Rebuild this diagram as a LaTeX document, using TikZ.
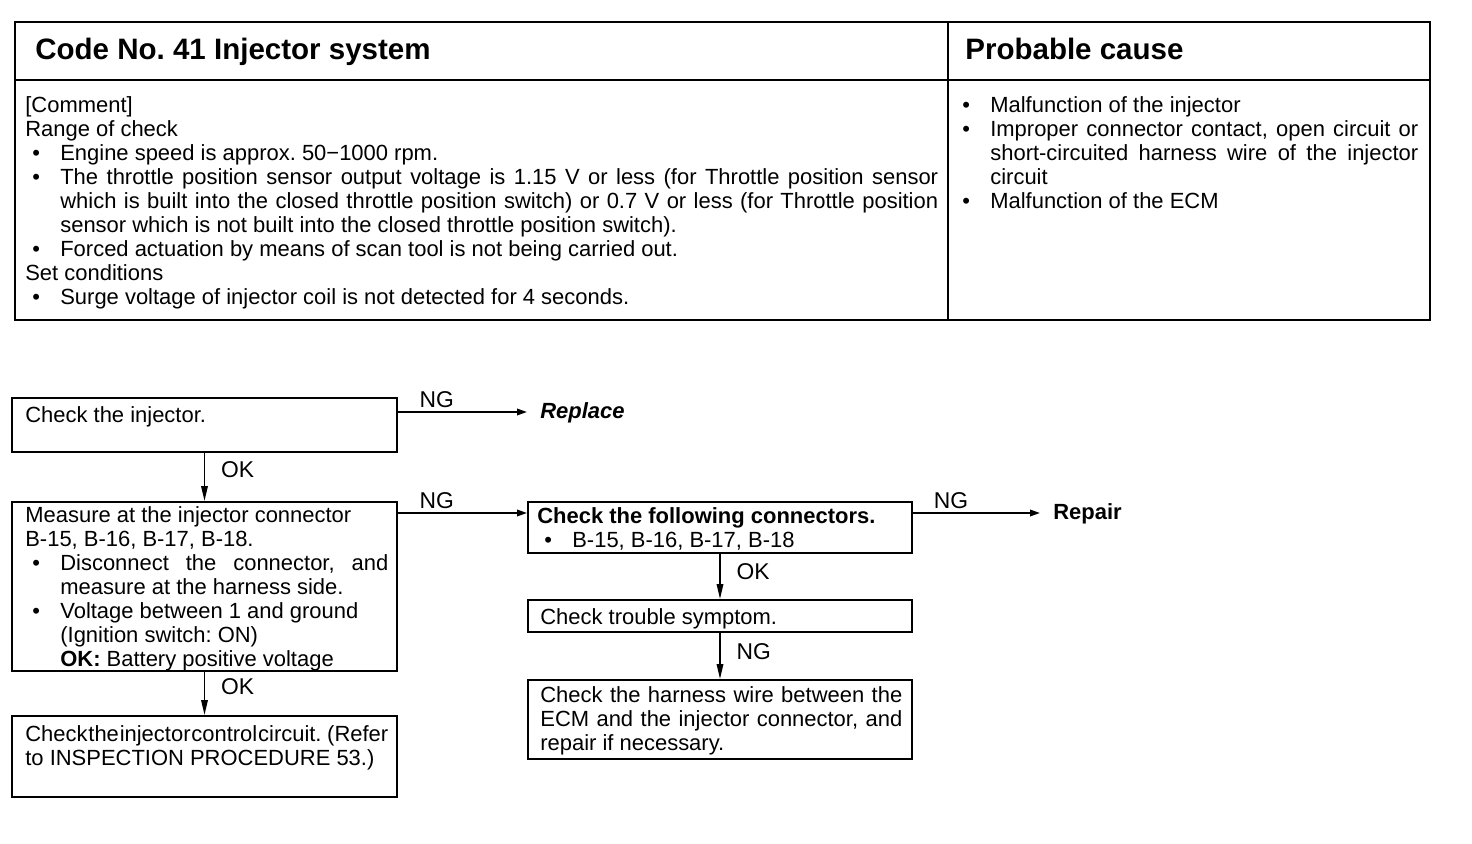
\documentclass[tikz,border=0pt]{standalone}
\usepackage{fontspec}
\setmainfont{Liberation Sans}
\usetikzlibrary{arrows.meta,fit}
\setlength{\parindent}{0pt}
\frenchspacing
\newlength{\bi}\setlength{\bi}{0.7cm}
\newcommand{\bul}{\par\hangindent=\bi\hangafter=1\makebox[\bi][l]{\hspace{0.14cm}\textbullet}}
\newcommand{\txt}{\fontsize{12.5}{13.66}\selectfont}

\begin{document}
\begin{tikzpicture}[x=0.02cm,y=-0.02cm,
    box/.style={draw,line width=1.1pt,inner sep=0pt},
    txt/.style={anchor=north west,inner sep=0pt,align=justify,font=\txt},
    head/.style={anchor=base west,inner sep=0pt,font=\fontsize{16.8}{20}\selectfont\bfseries},
    lbl/.style={font=\fontsize{13}{15}\selectfont,inner sep=2pt},
    harr/.style={line width=1pt,-{Triangle[length=0.2cm,width=0.13cm]}},
    varr/.style={line width=1pt,-{Triangle[length=0.3cm,width=0.13cm]}}]
  \useasboundingbox (0,0) rectangle (1472,844);
  % table
  \draw[line width=1.6pt] (15,22) rectangle (1430,320);
  \draw[line width=1.4pt] (15,80) -- (1430,80);
  \draw[line width=1.2pt] (948,22) -- (948,320);
  \node[head] (code) at (35,60) {Code No. 41 Injector system};
  \node[head] (cause) at (965,60) {Probable cause};
  \node[txt,text width=18.26cm] (comment) at (25,96) {[Comment]\par
    Range of check
    \bul Engine speed is approx. 50−1000 rpm.
    \bul The throttle position sensor output voltage is 1.15 V or less (for Throttle position sensor\linebreak
    which is built into the closed throttle position switch) or 0.7 V or less (for Throttle position\linebreak
    sensor which is not built into the closed throttle position switch).
    \bul Forced actuation by means of scan tool is not being carried out.\par
    Set conditions
    \bul Surge voltage of injector coil is not detected for 4 seconds.\par};
  \node[txt,text width=9.26cm] (causes) at (955,88) {%
    \bul Malfunction of the injector
    \bul Improper connector contact, open circuit or\linebreak
    short-circuited harness wire of the injector\linebreak circuit
    \bul Malfunction of the ECM\par};

  % flow chart boxes
  \node[box,fit={(12,398) (397,452)}] (inj) {};
  \node[box,fit={(12,502) (397,671)}] (meas) {};
  \node[box,fit={(12,716) (397,797)}] (circ) {};
  \node[box,fit={(528,502) (912,553)}] (conn) {};
  \node[box,fit={(528,600) (912,632)}] (symp) {};
  \node[box,fit={(528,680) (912,759)}] (harn) {};

  \node[txt] (inj-t) at (25,406) {Check the injector.};
  \node[txt,text width=7.26cm] (meas-t) at (25,506) {Measure at the injector connector\newline
    B-15, B-16, B-17, B-18.
    \bul Disconnect the connector, and\linebreak measure at the harness side.
    \bul Voltage between 1 and ground\newline (Ignition switch: ON)\newline
    \textbf{OK:} Battery positive voltage\par};
  \node[txt,text width=7.26cm] (circ-t) at (25,725) {{\spaceskip=0.05em plus 0.3em minus 0.05em
    Check the injector control circuit.} (Refer\linebreak to INSPECTION PROCEDURE 53.)\par};
  \node[txt,text width=7.3cm] (conn-t) at (537,507) {\textbf{Check the following connectors.}
    \bul B-15, B-16, B-17, B-18\par};
  \node[txt] (symp-t) at (540,608) {Check trouble symptom.};
  \node[txt,text width=7.24cm] (harn-t) at (540,686) {Check the harness wire between the\linebreak
    ECM and the injector connector, and\linebreak repair if necessary.\par};

  % results
  \node[anchor=west,inner sep=0pt,font=\txt\bfseries\itshape] (replace) at (540,413) {Replace};
  \node[anchor=west,inner sep=0pt,font=\txt\bfseries] (repair) at (1053,514) {Repair};
  \coordinate (rep-in) at (527,412);
  \coordinate (rep2-in) at (1040,513);
  \coordinate (row2) at (0,513);

  % connectors
  \draw[harr] (inj.east |- rep-in) -- node[lbl,above,pos=0.3]{NG} (rep-in);
  \draw[harr] (meas.east |- row2) -- node[lbl,above,pos=0.3]{NG} (conn.west |- row2);
  \draw[harr] (conn.east |- rep2-in) -- node[lbl,above,pos=0.3]{NG} (rep2-in);
  \draw[varr] (inj) -- node[lbl,right=7pt,pos=0.35]{OK} (meas);
  \draw[varr] (meas) -- node[lbl,right=7pt,pos=0.35]{OK} (circ);
  \draw[varr] (conn) -- node[lbl,right=7pt,pos=0.4]{OK} (symp);
  \draw[varr] (symp) -- node[lbl,right=7pt,pos=0.4]{NG} (harn);
\end{tikzpicture}
\end{document}
